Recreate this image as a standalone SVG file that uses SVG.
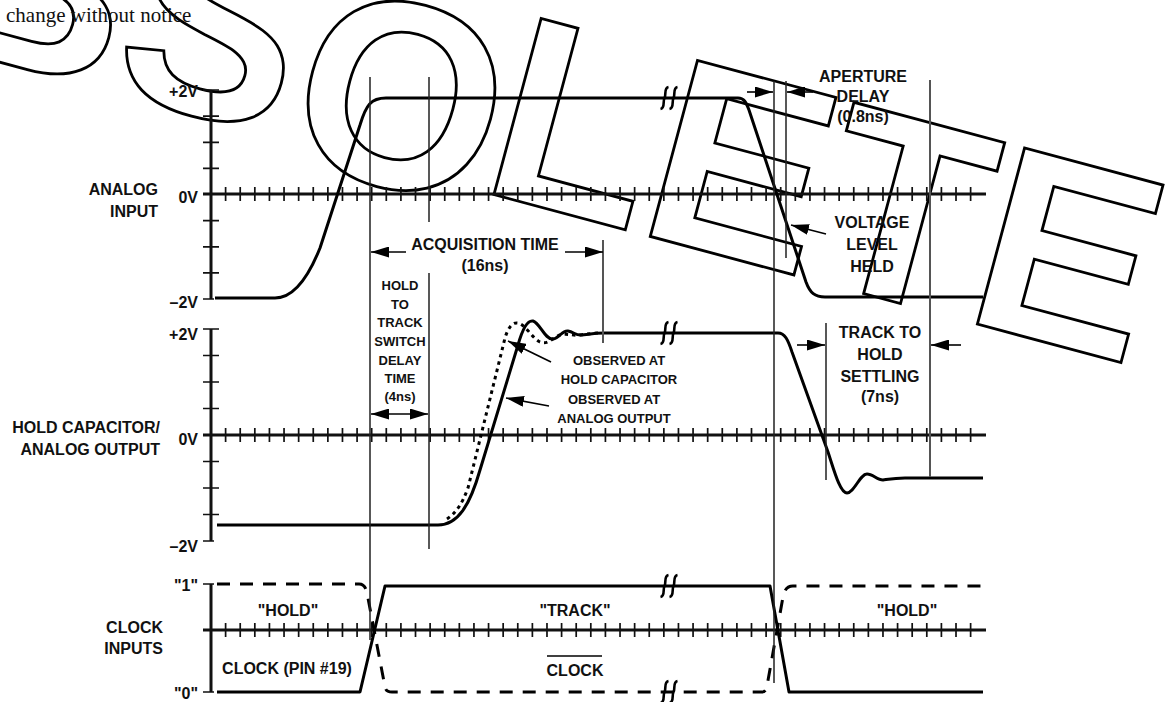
<svg xmlns="http://www.w3.org/2000/svg" width="1176" height="702" viewBox="0 0 1176 702">
<style>
.lbl{font-family:"Liberation Sans",Arial,Helvetica,sans-serif;font-weight:bold;font-size:16px;fill:#111}
.sm{font-size:13px}
.end{text-anchor:end}
.mid{text-anchor:middle}
.ax{stroke:#111;stroke-width:3;fill:none}
.tk{stroke:#111;stroke-width:1.7;fill:none}
.sig{stroke:#000;stroke-width:3;fill:none;stroke-linejoin:round;stroke-linecap:butt}
.dash{stroke-dasharray:13 10}
.dot{stroke-dasharray:3.5 4}
.ref{stroke:#222;stroke-width:1.5;fill:none}
.ref2{stroke:#555;stroke-width:2;fill:none}
.arr{stroke:#000;stroke-width:1.6;fill:none}
.wm{font-family:"Liberation Sans",Arial,Helvetica,sans-serif;font-weight:bold;font-size:265px;fill:none;stroke:#000;stroke-width:2.8;stroke-linejoin:miter;font-kerning:none}
</style>
<defs>
<marker id="ah" viewBox="0 0 18 11" refX="18" refY="5.5" markerWidth="18" markerHeight="11" markerUnits="userSpaceOnUse" orient="auto-start-reverse">
<path d="M0,0 L18,5.5 L0,11 z" fill="#000"/>
</marker>
<path id="hticks" class="tk" d="M225.61-7v14m14.608-14v14m14.608-14v14m14.608-14v14m14.608-14v14m14.608-14v14m14.608-14v14m14.608-14v14m14.608-14v14m14.608-14v14m14.608-14v14m14.608-14v14m14.608-14v14m14.608-14v14m14.608-14v14m14.608-14v14m14.608-14v14m14.608-14v14m14.608-14v14m14.608-14v14m14.608-14v14m14.608-14v14m14.608-14v14m14.608-14v14m14.608-14v14m14.608-14v14m14.608-14v14m14.608-14v14m14.608-14v14m14.608-14v14m14.608-14v14m14.608-14v14m14.608-14v14m14.608-14v14m14.608-14v14m14.608-14v14m14.608-14v14m14.608-14v14m14.608-14v14m14.608-14v14m14.608-14v14m14.608-14v14m14.608-14v14m14.608-14v14m14.608-14v14m14.608-14v14m14.608-14v14m14.608-14v14m14.608-14v14m14.608-14v14m14.608-14v14m14.608-14v14"/>
<g id="brk" fill="none" stroke="#000" stroke-width="2.6">
<path d="M-0.5,-11 C-5.5,-10 -2.5,-3 -4.5,0 C-6.5,3 -3.5,10 -8.5,11"/>
<path d="M8.5,-11 C3.5,-10 6.5,-3 4.5,0 C2.5,3 5.5,10 0.5,11"/>
</g>
</defs>
<rect width="1176" height="702" fill="#fff"/>

<g id="watermark">
<text class="wm" x="0" y="0" transform="translate(-277,-12) rotate(15)">OBS<tspan dx="6" dy="20">O</tspan><tspan dx="-6" dy="-20">LETE</tspan></text>
</g>

<g id="header">
<text x="6" y="22" font-family="'Liberation Serif','Times New Roman',serif" font-size="21" fill="#111">change without notice</text>
</g>

<g id="axes">
<path class="ax" d="M211 90V299 M211 329V541 M211 584V692 M203 194H986 M203 435H986 M203 630H986"/>
<path class="tk" d="M203 90h16M203 116.1h16M203 142.3h16M203 168.4h16M203 220.6h16M203 246.8h16M203 272.9h16M203 299h11 M203 329h16M203 355.5h16M203 382h16M203 408.5h16M203 461.5h16M203 488h16M203 514.5h16M203 541h11 M203 584h11M203 692h11"/>
<use href="#hticks" y="194"/>
<use href="#hticks" y="435"/>
<use href="#hticks" y="630"/>
</g>

<g id="axis-labels">
<text class="lbl end" x="198" y="97">+2V</text>
<text class="lbl end" x="198" y="203">0V</text>
<text class="lbl end" x="198" y="308">–2V</text>
<text class="lbl end" x="198" y="340">+2V</text>
<text class="lbl end" x="198" y="445">0V</text>
<text class="lbl end" x="198" y="552">–2V</text>
<text class="lbl end" x="198" y="591">"1"</text>
<text class="lbl end" x="198" y="699">"0"</text>
<text class="lbl end" x="158" y="195">ANALOG</text>
<text class="lbl end" x="158" y="217">INPUT</text>
<text class="lbl end" x="160" y="433">HOLD CAPACITOR/</text>
<text class="lbl end" x="160" y="455">ANALOG OUTPUT</text>
<text class="lbl end" x="163" y="633">CLOCK</text>
<text class="lbl end" x="163" y="654">INPUTS</text>
</g>

<g id="analog-input">
<path class="sig" d="M215 298 L275 298 C293 298 308 278 320 248 L360 125 C366 105 371 98 386 98 L738 98 C744 98 746 102 749 110 L806 282 C810 293 815 297 825 297 L983 297"/>
<use href="#brk" x="669" y="98"/>
</g>

<g id="hold-capacitor-output">
<path class="sig" d="M217 525 L438 525 C458 525 470 505 480 470 L518 345 C523 327 528 320 533 321 C540 323 545 340 553 339 C560 338 562 330 568 331 C574 332 576 336 582 335 C590 334 595 333 605 333 L778 333 C785 333 788 340 792 352 L828 452 C834 470 840 493 847 493 C854 493 860 474 867 474 C873 474 877 480 883 480 C890 479 895 478 905 478 L983 478"/>
<path class="sig dot" d="M447 519 C456 513 462 504 468 488 L505 338 C508 328 512 322 518 323 C526 325 532 338 540 342 C548 345 552 338 560 335 C568 333 572 336 580 335 C588 334 594 333 600 333"/>
<use href="#brk" x="669" y="333"/>
</g>

<g id="clock">
<path class="sig" d="M217 692 L360 692 L385 586 L770 586 L789 692 L983 692"/>
<path class="sig dash" d="M217 584 L359 584 C364 584 366 588 367 593 L385 687 C386 691 388 692 392 692 L762 692 C765 692 766 690 767 686 L783 597 C785 589 787 586 793 586 L983 586"/>
<use href="#brk" x="669" y="586"/>
<use href="#brk" x="669" y="692"/>
<text class="lbl mid" x="288" y="616">"HOLD"</text>
<text class="lbl mid" x="287" y="674">CLOCK (PIN #19)</text>
<text class="lbl mid" x="575" y="616">"TRACK"</text>
<text class="lbl mid" x="575" y="676">CLOCK</text>
<path class="arr" d="M547 656H602"/>
<text class="lbl mid" x="907" y="616">"HOLD"</text>
</g>

<g id="connectors">
<path class="ref" d="M370 77V640 M429 77V222 M429 273V549 M774 81V683 M786 81V258 M826 323V480"/>
<path class="ref2" d="M603 240V343 M930 80V477"/>
<path class="arr" marker-end="url(#ah)" d="M406 252H371"/>
<path class="arr" marker-end="url(#ah)" d="M565 252H603"/>
<path class="arr" marker-start="url(#ah)" marker-end="url(#ah)" d="M371 414H428"/>
<path class="arr" marker-end="url(#ah)" d="M747 92H773"/>
<path class="arr" marker-end="url(#ah)" d="M813 92H787"/>
<path class="arr" marker-end="url(#ah)" d="M826 234L791 225"/>
<path class="arr" marker-end="url(#ah)" d="M551 362L508 341"/>
<path class="arr" marker-end="url(#ah)" d="M549 406L506 398"/>
<path class="arr" marker-end="url(#ah)" d="M797 345H825"/>
<path class="arr" marker-end="url(#ah)" d="M961 345H931"/>
</g>

<g id="annotations">
<text class="lbl mid" x="485" y="250">ACQUISITION TIME</text>
<text class="lbl mid" x="485" y="271">(16ns)</text>
<g id="hold-to-track">
<text class="lbl sm mid" x="400" y="290">HOLD</text>
<text class="lbl sm mid" x="400" y="309">TO</text>
<text class="lbl sm mid" x="400" y="327">TRACK</text>
<text class="lbl sm mid" x="400" y="346">SWITCH</text>
<text class="lbl sm mid" x="400" y="365">DELAY</text>
<text class="lbl sm mid" x="400" y="383">TIME</text>
<text class="lbl sm mid" x="400" y="401">(4ns)</text>
</g>
<text class="lbl sm mid" x="619" y="365">OBSERVED AT</text>
<text class="lbl sm mid" x="619" y="384">HOLD CAPACITOR</text>
<text class="lbl sm mid" x="614" y="404">OBSERVED AT</text>
<text class="lbl sm mid" x="614" y="423">ANALOG OUTPUT</text>
<text class="lbl mid" x="863" y="82">APERTURE</text>
<text class="lbl mid" x="863" y="102">DELAY</text>
<text class="lbl mid" x="863" y="122">(0.8ns)</text>
<text class="lbl mid" x="872" y="228">VOLTAGE</text>
<text class="lbl mid" x="872" y="250">LEVEL</text>
<text class="lbl mid" x="872" y="272">HELD</text>
<text class="lbl mid" x="880" y="338">TRACK TO</text>
<text class="lbl mid" x="880" y="360">HOLD</text>
<text class="lbl mid" x="880" y="382">SETTLING</text>
<text class="lbl mid" x="880" y="402">(7ns)</text>
</g>
</svg>
